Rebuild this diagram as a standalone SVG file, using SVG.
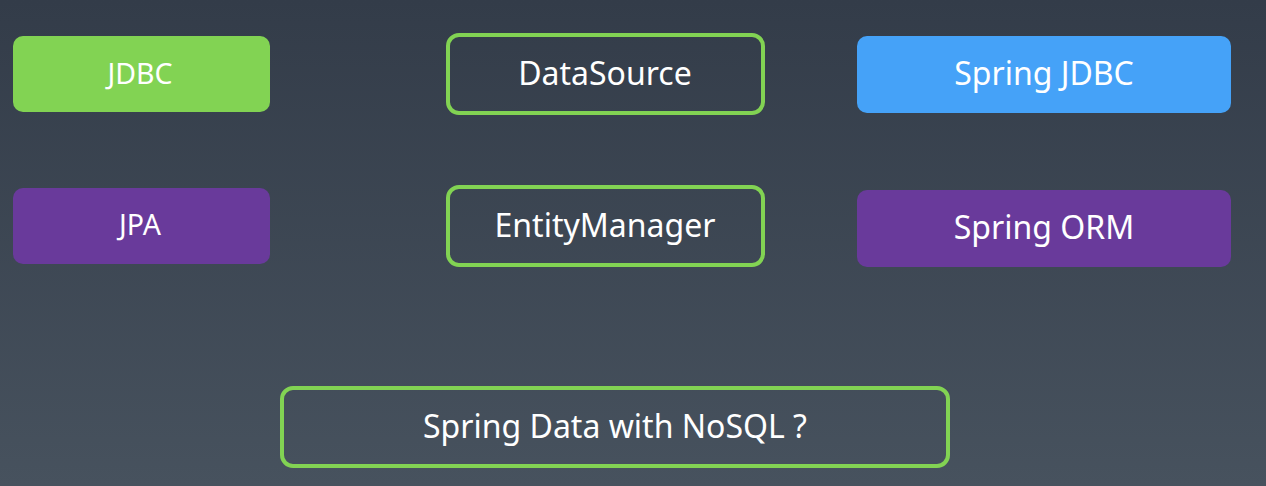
<svg xmlns="http://www.w3.org/2000/svg" width="1266" height="486" viewBox="0 0 1266 486">
<defs>
<linearGradient id="bg" x1="0" y1="0" x2="0" y2="1">
<stop offset="0" stop-color="#333c49"/>
<stop offset="1" stop-color="#47525e"/>
</linearGradient>
<style>
.t{font-family:"Noto Sans","Open Sans","DejaVu Sans",sans-serif;font-size:32px;fill:#ffffff;text-anchor:middle}
.s{font-size:28.5px}
.green{fill:#82d353}
.blue{fill:#45a2f8}
.purple{fill:#693a9b}
.outline{fill:none;stroke:#82d353;stroke-width:4}
</style>
</defs>
<rect width="1266" height="486" fill="url(#bg)"/>
<g id="connectors"></g>
<g id="jdbc"><rect class="green" x="13" y="36" width="257" height="76" rx="10"/><text class="t s" x="140" y="84">JDBC</text></g>
<g id="datasource"><rect class="outline" x="448" y="35" width="315" height="78" rx="11"/><text class="t" x="605" y="85">DataSource</text></g>
<g id="springjdbc"><rect class="blue" x="857" y="36" width="374" height="77" rx="10"/><text class="t" x="1044" y="85">Spring JDBC</text></g>
<g id="jpa"><rect class="purple" x="13" y="188" width="257" height="76" rx="10"/><text class="t s" x="140" y="235">JPA</text></g>
<g id="entitymanager"><rect class="outline" x="448" y="187" width="315" height="78" rx="11"/><text class="t" x="605" y="237">EntityManager</text></g>
<g id="springorm"><rect class="purple" x="857" y="190" width="374" height="77" rx="10"/><text class="t" x="1044" y="239">Spring ORM</text></g>
<g id="springdata"><rect class="outline" x="282" y="388" width="666" height="78" rx="11"/><text class="t" x="615" y="438">Spring Data with NoSQL ?</text></g>
</svg>
